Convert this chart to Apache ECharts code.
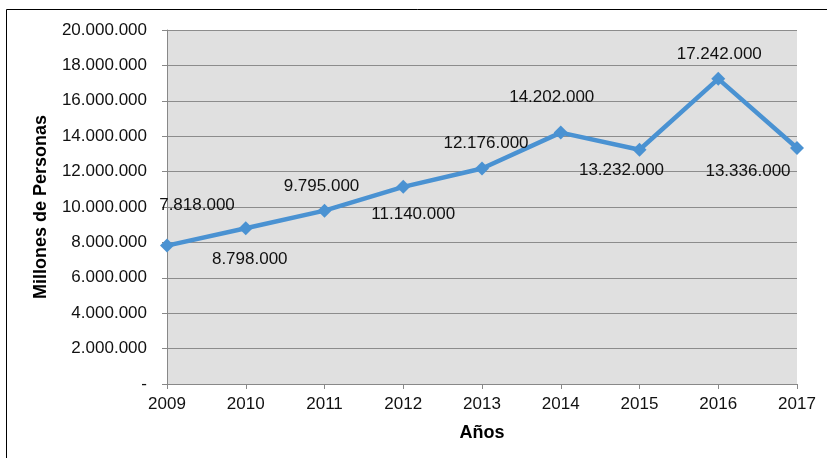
<!DOCTYPE html>
<html>
<head>
<meta charset="utf-8">
<style>html,body{margin:0;padding:0;background:#fff}#c{width:827px;height:458px}</style>
<script src="https://cdn.jsdelivr.net/npm/echarts@6/dist/echarts.min.js"></script>
</head>
<body>
<div id="c"></div>
<script>
const years = ['2009','2010','2011','2012','2013','2014','2015','2016','2017'];
const personas = [7818000, 8798000, 9795000, 11140000, 12176000, 14202000, 13232000, 17242000, 13336000];
const yTicks = [0, 2000000, 4000000, 6000000, 8000000, 10000000, 12000000, 14000000, 16000000, 18000000, 20000000];

// label placement (style only): offset of label centre from point
const labelOffsets = [[30,-40],[4,31],[-3,-24],[10,27],[4,-25],[-9,-35],[-18,21],[1,-25],[-49,23]];

function fmt(v){
  if (v === 0) return '-';
  return String(Math.round(v)).replace(/\B(?=(\d{3})+(?!\d))/g, '.');
}

const chart = echarts.init(document.getElementById('c'), null, {renderer:'canvas'});
const font = 'Liberation Sans, Arial, sans-serif';
chart.setOption({
  animation: false,
  backgroundColor: '#fff',
  textStyle: {fontFamily: font},
  graphic: [{
    type: 'rect', shape: {x: 6.5, y: 9.5, width: 830, height: 470},
    style: {fill: 'none', stroke: '#000', lineWidth: 1}, silent: true, z: -1
  }],
  grid: {left: 167, right: 30, top: 30, bottom: 74, show: true, backgroundColor: '#e0e0e0', borderWidth: 0},
  xAxis: {
    type: 'category', data: years, boundaryGap: false,
    name: 'Años', nameLocation: 'middle', nameGap: 40,
    nameTextStyle: {fontFamily: font, fontSize: 18, fontWeight: 'bold', color: '#000'},
    axisLine: {lineStyle: {color: '#888', width: 1}},
    axisTick: {show: true, length: 5, lineStyle: {color: '#888'}},
    axisLabel: {fontFamily: font, fontSize: 17, color: '#111', margin: 12},
    splitLine: {show: false}
  },
  yAxis: {
    type: 'value', min: yTicks[0], max: yTicks[yTicks.length-1], interval: yTicks[1]-yTicks[0],
    name: 'Millones de Personas', nameLocation: 'middle', nameGap: 117,
    nameTextStyle: {fontFamily: font, fontSize: 18, fontWeight: 'bold', color: '#000'},
    axisLine: {show: true, lineStyle: {color: '#888', width: 1}},
    axisTick: {show: true, length: 5, lineStyle: {color: '#888'}},
    axisLabel: {fontFamily: font, fontSize: 17, color: '#111', margin: 20, formatter: fmt},
    splitLine: {show: true, lineStyle: {color: '#8c8c8c', width: 1}}
  },
  series: [{
    type: 'line',
    data: personas.map((v, i) => ({
      value: v,
      label: {offset: labelOffsets[i]}
    })),
    lineStyle: {color: '#4a92d2', width: 4.5},
    itemStyle: {color: '#4a92d2'},
    symbol: 'diamond', symbolSize: 14,
    label: {
      show: true, position: 'inside', align: 'center', verticalAlign: 'middle',
      fontFamily: font, fontSize: 17, color: '#111',
      formatter: p => fmt(p.value)
    },
    z: 3
  }]
});
</script>
</body>
</html>
